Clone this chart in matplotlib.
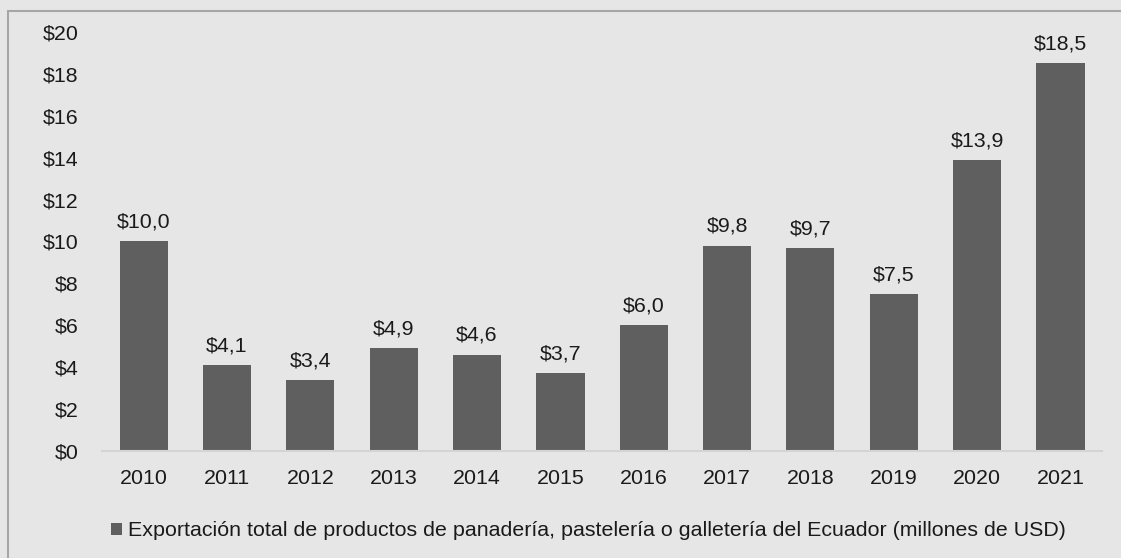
import numpy as np
import matplotlib.pyplot as plt
from matplotlib.patches import Rectangle

# data
years = ['2010', '2011', '2012', '2013', '2014', '2015',
         '2016', '2017', '2018', '2019', '2020', '2021']
exports = [10.0, 4.1, 3.4, 4.9, 4.6, 3.7, 6.0, 9.8, 9.7, 7.5, 13.9, 18.5]
y_ticks = [0, 2, 4, 6, 8, 10, 12, 14, 16, 18, 20]
series_name = ('Exportación total de productos de panadería, pastelería o '
               'galletería del Ecuador (millones de USD)')

plt.rcParams['font.family'] = ['Liberation Sans', 'DejaVu Sans']

bg = '#e6e6e6'
bar_col = '#5f5f5f'
W, H = 1121, 558
fs = 15.4

fig = plt.figure(figsize=(W / 100, H / 100), dpi=100, facecolor=bg)
ax = fig.add_axes([102 / W, 1 - 451 / H, 1000 / W, 419 / H])
ax.set_facecolor(bg)

x = np.arange(len(years))
bars = ax.bar(x, exports, width=0.58, color=bar_col, label=series_name)
ax.set_xlim(-0.5, len(years) - 0.5)
ax.set_ylim(0, 20)

for b, v in zip(bars, exports):
    lab = ('$%.1f' % v).replace('.', ',')
    ax.annotate(lab, (b.get_x() + b.get_width() / 2, v),
                xytext=(0, 7), textcoords='offset points',
                ha='center', va='bottom', fontsize=fs, color='#1a1a1a')

ax.set_xticks(x)
ax.set_xticklabels(years, fontsize=fs, color='#1a1a1a')
ax.set_yticks(y_ticks)
ax.set_yticklabels(['$%d' % t for t in y_ticks], fontsize=fs, color='#1a1a1a')
ax.tick_params(axis='both', length=0)
ax.tick_params(axis='y', pad=17)
ax.tick_params(axis='x', pad=13)

for s in ['top', 'right', 'left']:
    ax.spines[s].set_visible(False)
ax.spines['bottom'].set_color('#d4d4d4')
ax.spines['bottom'].set_linewidth(1.5)

fig.legend(handles=[bars], labels=[series_name], loc='center left',
           bbox_to_anchor=(111 / W, 1 - 531 / H), frameon=False,
           fontsize=fs, handlelength=0.5, handleheight=0.5,
           handletextpad=0.3, borderpad=0, borderaxespad=0,
           labelcolor='#1a1a1a')

# outer chart frame
fig.patches.append(Rectangle((8 / W, -0.1), 1.2, 1 - 11 / H + 0.1,
                             transform=fig.transFigure, fill=False,
                             edgecolor='#a6a6a6', linewidth=1.5))

fig.savefig('out.png', dpi=100, facecolor=bg)
